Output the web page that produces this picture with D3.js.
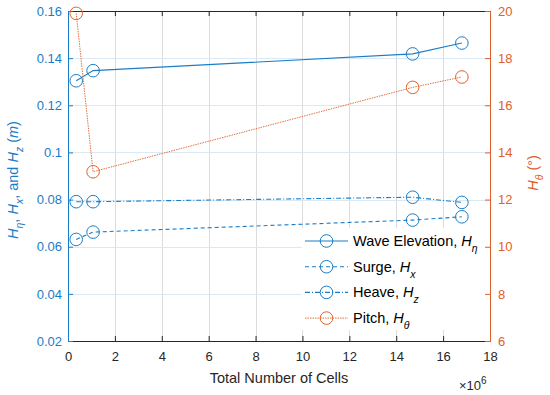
<!DOCTYPE html>
<meta charset="utf-8">
<style>
body { margin: 0; background: #fff; }
text { font-family: "Liberation Sans", Arial, sans-serif; }
.grid line { shape-rendering: crispEdges; }
</style>
<svg width="550" height="395"></svg>
<script src="https://d3js.org/d3.v7.min.js"></script>
<script>

// data (cell counts in millions)
var cells = [0.35, 1.07, 14.7, 16.8];
var waveElev = [0.1304, 0.1347, 0.1418, 0.1464];
var surge = [0.0631, 0.0662, 0.0713, 0.0727];
var heave = [0.0791, 0.0791, 0.0810, 0.0788];
var pitch = [19.9, 13.18, 16.76, 17.2];

var xTicks = [0, 2, 4, 6, 8, 10, 12, 14, 16, 18];
var yLeftTicks = [0.02, 0.04, 0.06, 0.08, 0.1, 0.12, 0.14, 0.16];
var yRightTicks = [6, 8, 10, 12, 14, 16, 18, 20];

var blue = "#1a7dc8",
    orange = "#e0602a";

var svg = d3.select("svg"),
    margin = {top: 11, right: 60, bottom: 54, left: 68},
    width = 550 - margin.left - margin.right,
    height = 395 - margin.top - margin.bottom,
    g = svg.append("g").attr("transform", "translate(" + margin.left + "," + margin.top + ")");

var x = d3.scaleLinear().domain([0, 18]).range([0, width]),
    yL = d3.scaleLinear().domain([0.02, 0.16]).range([height, 0]),
    yR = d3.scaleLinear().domain([6, 20]).range([height, 0]);

// grid
g.append("g").attr("class", "grid")
  .selectAll("line").data(xTicks.slice(1, -1)).enter().append("line")
    .attr("x1", function(d) { return Math.round(x(d)) + 0.5; })
    .attr("x2", function(d) { return Math.round(x(d)) + 0.5; })
    .attr("y1", 0).attr("y2", height)
    .attr("stroke", "#dcdcdc");

g.append("g").attr("class", "grid")
  .selectAll("line").data(yLeftTicks.slice(1, -1)).enter().append("line")
    .attr("x1", 0).attr("x2", width)
    .attr("y1", function(d) { return Math.round(yL(d)) + 0.5; })
    .attr("y2", function(d) { return Math.round(yL(d)) + 0.5; })
    .attr("stroke", "#dbe9f5");

// axes
var fs = 13, lfs = 14.5;
var xAxis = g.append("g").attr("transform", "translate(0," + height + ")")
  .call(d3.axisBottom(x).tickValues(xTicks).tickSize(-5).tickPadding(11).tickFormat(d3.format("d")));
xAxis.select(".domain").attr("stroke", "#262626");
xAxis.selectAll(".tick line").attr("stroke", "#262626");
xAxis.selectAll("text").attr("fill", "#262626").style("font-size", fs + "px");

var xTop = g.append("g")
  .call(d3.axisTop(x).tickValues(xTicks).tickSize(-5).tickFormat(""));
xTop.select(".domain").attr("stroke", "#262626");
xTop.selectAll(".tick line").attr("stroke", "#262626");

var yAxisL = g.append("g")
  .call(d3.axisLeft(yL).tickValues(yLeftTicks).tickSize(-5).tickPadding(6).tickFormat(d3.format("~g")));
yAxisL.select(".domain").attr("stroke", blue);
yAxisL.selectAll(".tick line").attr("stroke", blue);
yAxisL.selectAll("text").attr("fill", blue).style("font-size", fs + "px");

var yAxisR = g.append("g").attr("transform", "translate(" + width + ",0)")
  .call(d3.axisRight(yR).tickValues(yRightTicks).tickSize(-5).tickPadding(8));
yAxisR.select(".domain").attr("stroke", orange);
yAxisR.selectAll(".tick line").attr("stroke", orange);
yAxisR.selectAll("text").attr("fill", orange).style("font-size", fs + "px");

// series
var series = [
  {name: "Wave Elevation, ", sub: "\u03b7", values: waveElev, y: yL, color: blue, dash: null, w: 1.1},
  {name: "Surge, ", sub: "x", values: surge, y: yL, color: blue, dash: "4,3", w: 1.1},
  {name: "Heave, ", sub: "z", values: heave, y: yL, color: blue, dash: "5,2,1,2", w: 1.1},
  {name: "Pitch, ", sub: "\u03b8", values: pitch, y: yR, color: orange, dash: "1.5,1", w: 0.9}
];

series.forEach(function(s) {
  var line = d3.line()
    .x(function(d, i) { return x(cells[i]); })
    .y(function(d) { return s.y(d); });
  g.append("path")
    .attr("d", line(s.values))
    .attr("fill", "none")
    .attr("stroke", s.color)
    .attr("stroke-width", s.w)
    .attr("stroke-dasharray", s.dash);
  g.selectAll(null).data(s.values).enter().append("circle")
    .attr("cx", function(d, i) { return x(cells[i]); })
    .attr("cy", function(d) { return s.y(d); })
    .attr("r", 6.3)
    .attr("fill", "none")
    .attr("stroke", s.color)
    .attr("stroke-width", 1);
});

// legend
var legend = g.append("g").attr("transform", "translate(237,230)");
legend.append("rect")
  .attr("x", -3).attr("y", -13).attr("width", 183).attr("height", 102)
  .attr("fill", "#fff");
series.forEach(function(s, i) {
  var row = legend.append("g").attr("transform", "translate(0," + (i * 25.7) + ")");
  row.append("line")
    .attr("x1", 0).attr("x2", 43).attr("y1", 0).attr("y2", 0)
    .attr("stroke", s.color).attr("stroke-width", s.w)
    .attr("stroke-dasharray", s.dash);
  row.append("circle").attr("cx", 21.5).attr("cy", 0).attr("r", 6.3)
    .attr("fill", "none").attr("stroke", s.color);
  var t = row.append("text").attr("x", 48).attr("dy", "0.35em")
    .style("font-size", lfs + "px").attr("fill", "#000");
  t.append("tspan").text(s.name);
  t.append("tspan").style("font-style", "italic").text("H");
  t.append("tspan").style("font-style", "italic").style("font-size", "10.5px")
    .attr("dy", 6).text(s.sub);
});

// axis labels
svg.append("text")
  .attr("x", margin.left + width / 2).attr("y", 383)
  .attr("text-anchor", "middle").attr("fill", "#262626")
  .style("font-size", lfs + "px")
  .text("Total Number of Cells");

var mult = svg.append("text")
  .attr("x", 459).attr("y", 390)
  .attr("fill", "#262626").style("font-size", fs + "px");
mult.append("tspan").text("\u00d710");
mult.append("tspan").attr("dy", -6).style("font-size", "10px").text("6");

var yl = svg.append("text")
  .attr("transform", "translate(18,180) rotate(-90)")
  .attr("text-anchor", "middle").attr("fill", blue)
  .style("font-size", lfs + "px");
yl.append("tspan").style("font-style", "italic").text("H");
yl.append("tspan").style("font-style", "italic").style("font-size", "10.5px").attr("dy", 5).text("\u03b7");
yl.append("tspan").attr("dy", -5).text(", ");
yl.append("tspan").style("font-style", "italic").text("H");
yl.append("tspan").style("font-style", "italic").style("font-size", "10.5px").attr("dy", 5).text("x");
yl.append("tspan").attr("dy", -5).text(", and ");
yl.append("tspan").style("font-style", "italic").text("H");
yl.append("tspan").style("font-style", "italic").style("font-size", "10.5px").attr("dy", 5).text("z");
yl.append("tspan").attr("dy", -5).text(" (");
yl.append("tspan").style("font-style", "italic").text("m");
yl.append("tspan").text(")");

var yr = svg.append("text")
  .attr("transform", "translate(538,173) rotate(-90)")
  .attr("text-anchor", "middle").attr("fill", orange)
  .style("font-size", lfs + "px");
yr.append("tspan").style("font-style", "italic").text("H");
yr.append("tspan").style("font-style", "italic").style("font-size", "10.5px").attr("dy", 5).text("\u03b8");
yr.append("tspan").attr("dy", -5).text(" (\u00b0)");

</script>
